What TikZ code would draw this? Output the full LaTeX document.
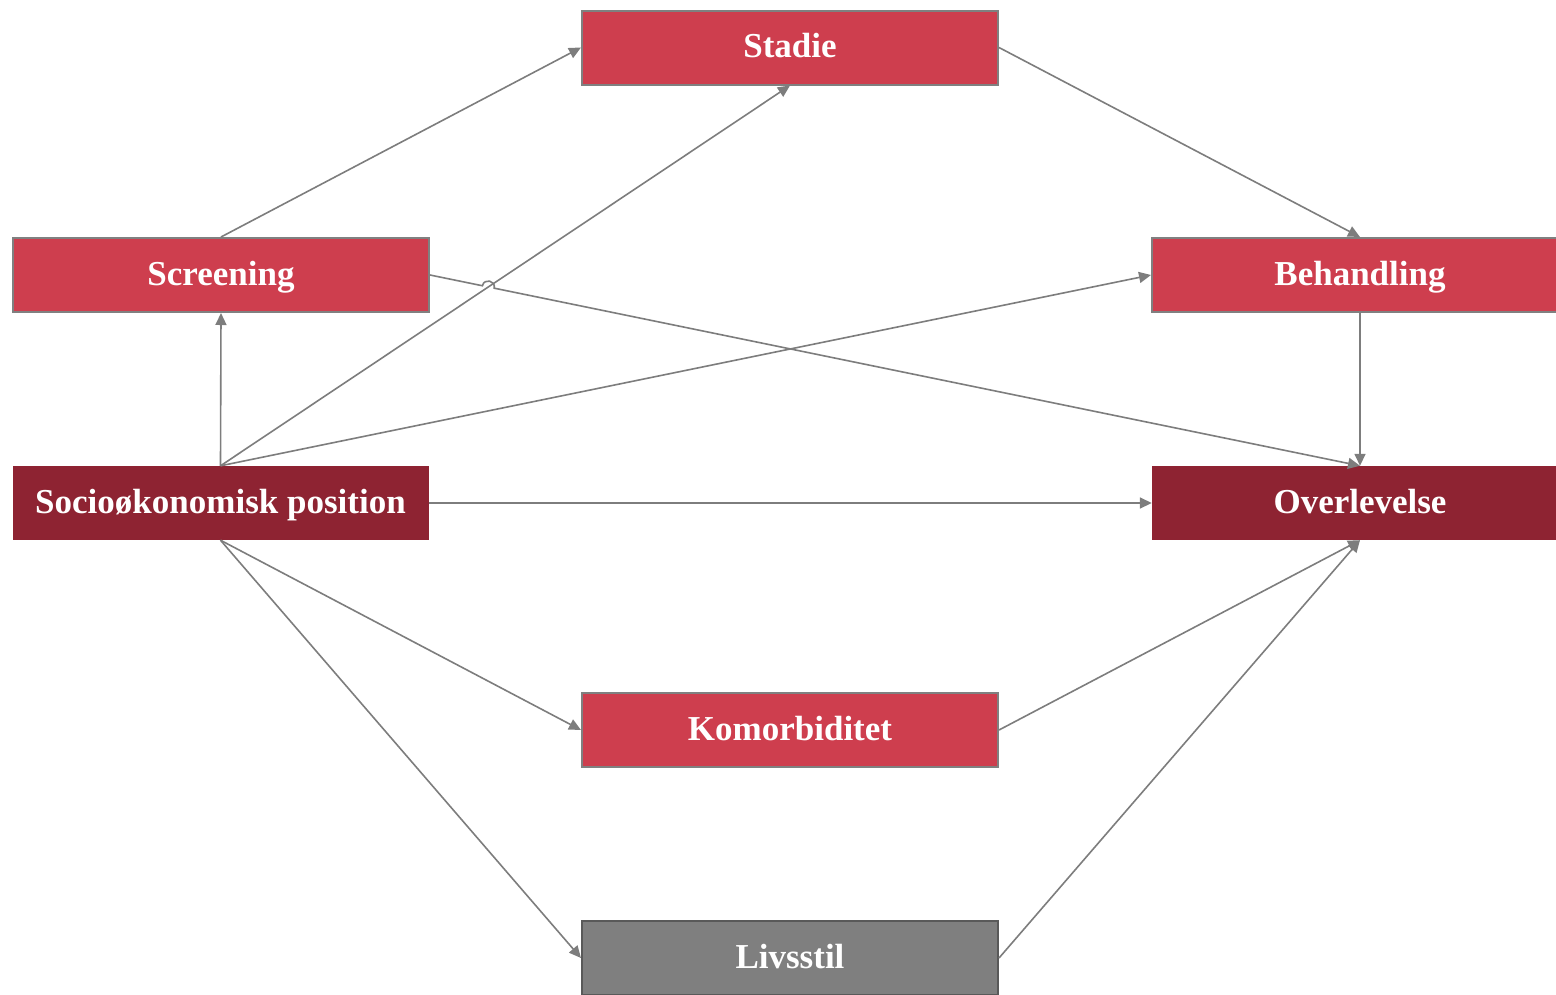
\documentclass[tikz,border=0pt]{standalone}
\usepackage{fontspec}
\setmainfont{Liberation Serif}
\usetikzlibrary{arrows.meta,calc,intersections}
\definecolor{boxred}{RGB}{206,62,78}
\definecolor{darkred}{RGB}{142,35,50}
\definecolor{boxgray}{RGB}{127,127,127}
\definecolor{edgegray}{RGB}{128,128,128}
\definecolor{linegray}{RGB}{125,125,125}
\begin{document}
\begin{tikzpicture}[x=1pt,y=-1pt,
  factor/.style={minimum width=416pt,minimum height=74pt,inner sep=0pt,
    text height=30pt,text depth=10pt,
    font=\fontsize{35}{37}\selectfont\bfseries,text=white},
  redbox/.style={factor,fill=boxred,draw=edgegray,line width=2pt},
  keybox/.style={factor,fill=darkred},
  graybox/.style={factor,fill=boxgray,draw=black!65,line width=2pt},
  arr/.style={draw=linegray,line width=1.6pt,
    -{Triangle[width=11pt,length=12pt]}}]
\useasboundingbox (0,0) rectangle (1556,994);

\node[redbox]   (st)  at (790,47.5) {Stadie};
\node[redbox]   (scr) at (221,275)  {Screening};
\node[redbox]   (beh) at (1360,275) {Behandling};
\node[keybox]   (soc) at (220.5,503) {Socioøkonomisk position};
\node[keybox]   (ov)  at (1360,503) {Overlevelse};
\node[redbox]   (kom) at (790,730)  {Komorbiditet};
\node[graybox]  (liv) at (790,958)  {Livsstil};

% paths from the exposure
\draw[arr] (scr.north) -- (st.west);
\draw[arr] (soc.north) -- (scr.south);
\draw[arr,name path=socst] (soc.north) -- (st.south);
\draw[arr] (soc.north) -- (beh.west);
\draw[arr] (soc.east) -- (ov.west);
\draw[arr] (soc.south) -- (kom.west);
\draw[arr] (soc.south) -- (liv.west);

% screening to survival, hopping over the crossing line
\path[name path=scrov] (scr.east) -- (ov.north);
\path[name intersections={of=socst and scrov,by=X}];
\coordinate (hopA) at ($(X)!6pt!(scr.east)$);
\coordinate (hopB) at ($(X)!6pt!(ov.north)$);
\draw[arr] (scr.east) -- (hopA) to[bend left=90,looseness=1.7] (hopB) -- (ov.north);

% mediators to survival
\draw[arr] (st.east) -- (beh.north);
\draw[arr] (beh.south) -- (ov.north);
\draw[arr] (kom.east) -- (ov.south);
\draw[arr] (liv.east) -- (ov.south);
\end{tikzpicture}
\end{document}
